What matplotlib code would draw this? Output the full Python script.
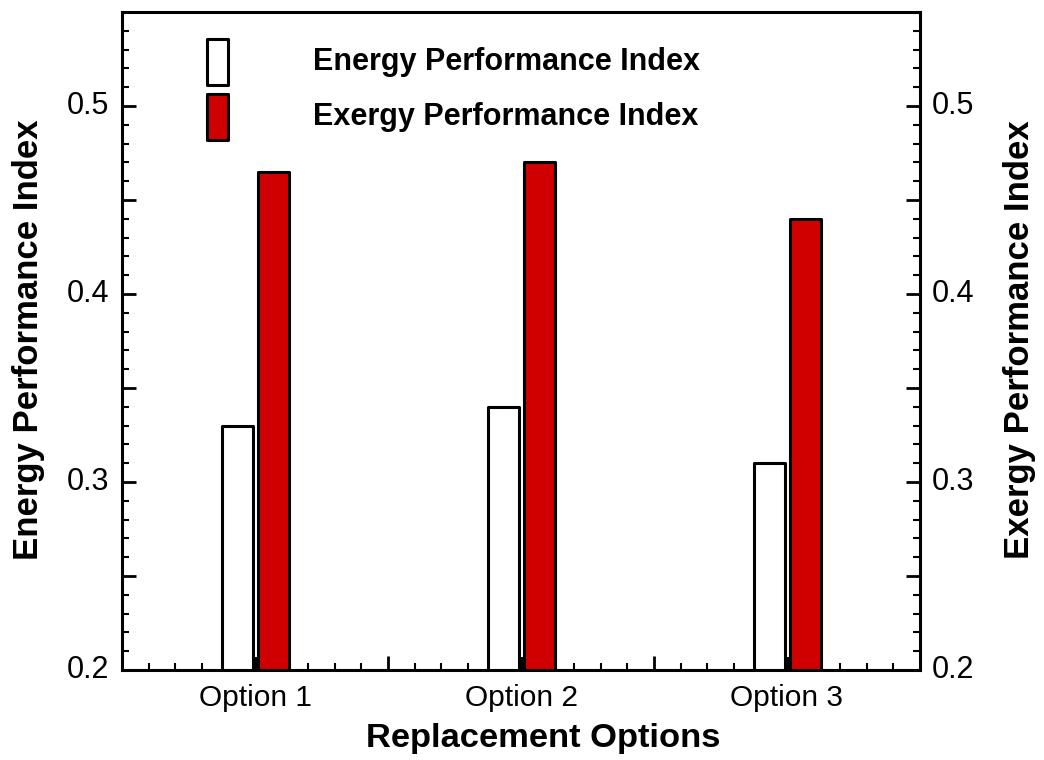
import matplotlib
matplotlib.use("Agg")
import matplotlib.pyplot as plt
from matplotlib.ticker import MultipleLocator, FixedLocator, NullFormatter
from matplotlib.patches import Rectangle
import numpy as np

plt.rcParams['font.family'] = ['Liberation Sans', 'DejaVu Sans']

categories = ["Option 1", "Option 2", "Option 3"]
energy_index = [0.33, 0.34, 0.31]
exergy_index = [0.465, 0.47, 0.44]
base_stub = [0.207, 0.207, 0.207]
series_names = ["Energy Performance Index", "Exergy Performance Index"]

fig = plt.figure(figsize=(10.44, 7.6), dpi=100)
ax = fig.add_axes([0.1169, 0.1184, 0.7643, 0.8658])

x = np.arange(1, len(categories) + 1)
w = 0.117
lw = 2.2
ax.bar(x - 0.066, np.array(energy_index) - 0.2, bottom=0.2, width=w,
       color='white', edgecolor='black', linewidth=lw, joinstyle='round', zorder=3)
ax.bar(x + 0.070, np.array(exergy_index) - 0.2, bottom=0.2, width=w,
       color='#D00000', edgecolor='black', linewidth=lw, joinstyle='round', zorder=3)
ax.bar(x + 0.003, np.array(base_stub) - 0.2, bottom=0.2, width=0.022,
       color='black', edgecolor='black', linewidth=0, zorder=2)

ax.set_xlim(0.5, 3.5)
ax.set_ylim(0.2, 0.55)

for s in ax.spines.values():
    s.set_linewidth(2.2)

# x ticks
ax.xaxis.set_major_locator(FixedLocator([0.5, 1.5, 2.5, 3.5]))
ax.xaxis.set_minor_locator(MultipleLocator(0.1))
ax.xaxis.set_major_formatter(NullFormatter())
ax.tick_params(axis='x', which='major', direction='in', length=10, width=2, top=False)
ax.tick_params(axis='x', which='minor', direction='in', length=5, width=1.5, top=False)
for xi, lab in zip(x, categories):
    ax.text(xi, -0.022, lab, transform=ax.get_xaxis_transform(), ha='center', va='top',
            fontsize=21.5)

# y ticks
ax.yaxis.set_major_locator(MultipleLocator(0.05))
ax.yaxis.set_minor_locator(MultipleLocator(0.01))
ax.yaxis.set_major_formatter(NullFormatter())
ax.tick_params(axis='y', which='major', direction='in', length=10, width=2, right=True)
ax.tick_params(axis='y', which='minor', direction='in', length=5, width=1.5, right=True)
for yv in [0.2, 0.3, 0.4, 0.5]:
    ax.text(-0.016, yv, f"{yv:.1f}", transform=ax.get_yaxis_transform(), ha='right',
            va='center', fontsize=22)
    ax.text(1.015, yv, f"{yv:.1f}", transform=ax.get_yaxis_transform(), ha='left',
            va='center', fontsize=22)

fig.text(0.52, 0.028, "Replacement Options", ha='center', va='center', fontsize=24.8,
         fontweight='bold')
fig.text(0.027, 0.553, "Energy Performance Index", ha='center', va='center', fontsize=25,
         fontweight='bold', rotation=90)
fig.text(0.977, 0.553, "Exergy Performance Index", ha='center', va='center', fontsize=25,
         fontweight='bold', rotation=90)

# legend
leg_colors = ['white', '#D00000']
leg_y = [62, 117]
for name, col, yc in zip(series_names, leg_colors, leg_y):
    r = Rectangle((207 / 1044, 1 - (yc + 23) / 760), 21 / 1044, 46 / 760,
                  transform=fig.transFigure, facecolor=col, edgecolor='black',
                  linewidth=2.2, joinstyle='round')
    fig.add_artist(r)
    fig.text(313 / 1044, 1 - yc / 760, name, ha='left', va='center', fontsize=22,
             fontweight='bold')

fig.savefig("out.png", dpi=100)
